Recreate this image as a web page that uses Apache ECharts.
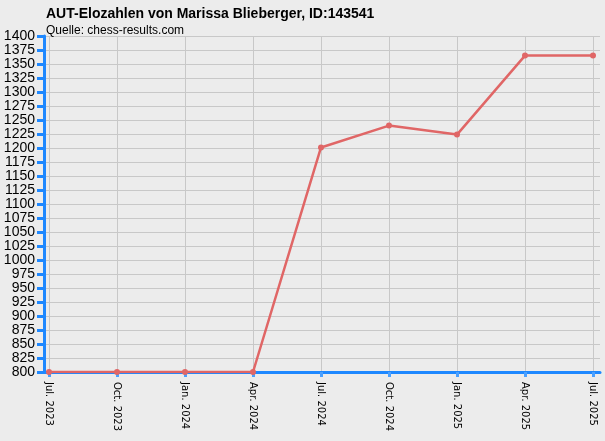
<!DOCTYPE html>
<html>
<head>
<meta charset="utf-8">
<script src="https://cdn.jsdelivr.net/npm/echarts@6/dist/echarts.min.js"></script>
<style>
html,body{margin:0;padding:0;background:#ececec;}
#chart{width:605px;height:441px;}
</style>
</head>
<body>
<div id="chart"></div>
<script>
var months = ['Jul. 2023','Oct. 2023','Jan. 2024','Apr. 2024','Jul. 2024','Oct. 2024','Jan. 2025','Apr. 2025','Jul. 2025'];
var elo = [800, 800, 800, 800, 1201, 1240, 1224, 1365, 1365];
var yMin = 800, yMax = 1400, yStep = 25;

var chart = echarts.init(document.getElementById('chart'));
var blue = '#1e88ff';
var option = {
    backgroundColor: '#ececec',
    animation: false,
    title: {
        text: 'AUT-Elozahlen von Marissa Blieberger, ID:143541',
        subtext: 'Quelle: chess-results.com',
        left: 41,
        top: 2,
        itemGap: 4,
        textStyle: {fontFamily: 'Liberation Sans', fontSize: 14, fontWeight: 'bold', color: '#000'},
        subtextStyle: {fontFamily: 'Liberation Sans', fontSize: 12, color: '#000'}
    },
    grid: [
        {left: 44, right: 5, top: 36, bottom: 69},   // background: y axis and horizontal lines
        {left: 49, right: 12, top: 36, bottom: 69}   // data
    ],
    xAxis: [
        {
            gridIndex: 0, type: 'category', data: months, boundaryGap: false,
            axisLine: {lineStyle: {color: blue, width: 3}},
            axisTick: {show: false}, axisLabel: {show: false}, splitLine: {show: false}
        },
        {
            gridIndex: 1, type: 'category', data: months, boundaryGap: false,
            axisLine: {show: false},
            axisTick: {show: true, length: 5, alignWithLabel: true, lineStyle: {color: '#4aa0ff', width: 3}},
            axisLabel: {rotate: -90, margin: 10, fontFamily: 'DejaVu Sans', fontSize: 10, color: '#000', interval: 0},
            splitLine: {show: true, lineStyle: {color: '#c8c8c8', width: 1}}
        }
    ],
    yAxis: [
        {
            gridIndex: 0, type: 'value', min: yMin, max: yMax, interval: yStep,
            axisLine: {show: true, lineStyle: {color: blue, width: 3}},
            axisTick: {show: true, length: 7, lineStyle: {color: blue, width: 3}},
            axisLabel: {margin: 9, fontFamily: 'Liberation Sans', fontSize: 14, color: '#000',
                formatter: function (v) { return String(v); }},
            splitLine: {show: true, lineStyle: {color: '#c8c8c8', width: 1}}
        },
        {
            gridIndex: 1, type: 'value', min: yMin, max: yMax, interval: yStep,
            axisLine: {show: false}, axisTick: {show: false}, axisLabel: {show: false},
            splitLine: {show: false}
        }
    ],
    series: [{
        type: 'line',
        xAxisIndex: 1,
        yAxisIndex: 1,
        data: elo,
        symbol: 'circle',
        symbolSize: 6,
        lineStyle: {color: '#e06666', width: 2.5},
        itemStyle: {color: '#e06666'}
    }]
};
chart.setOption(option);
</script>
</body>
</html>
